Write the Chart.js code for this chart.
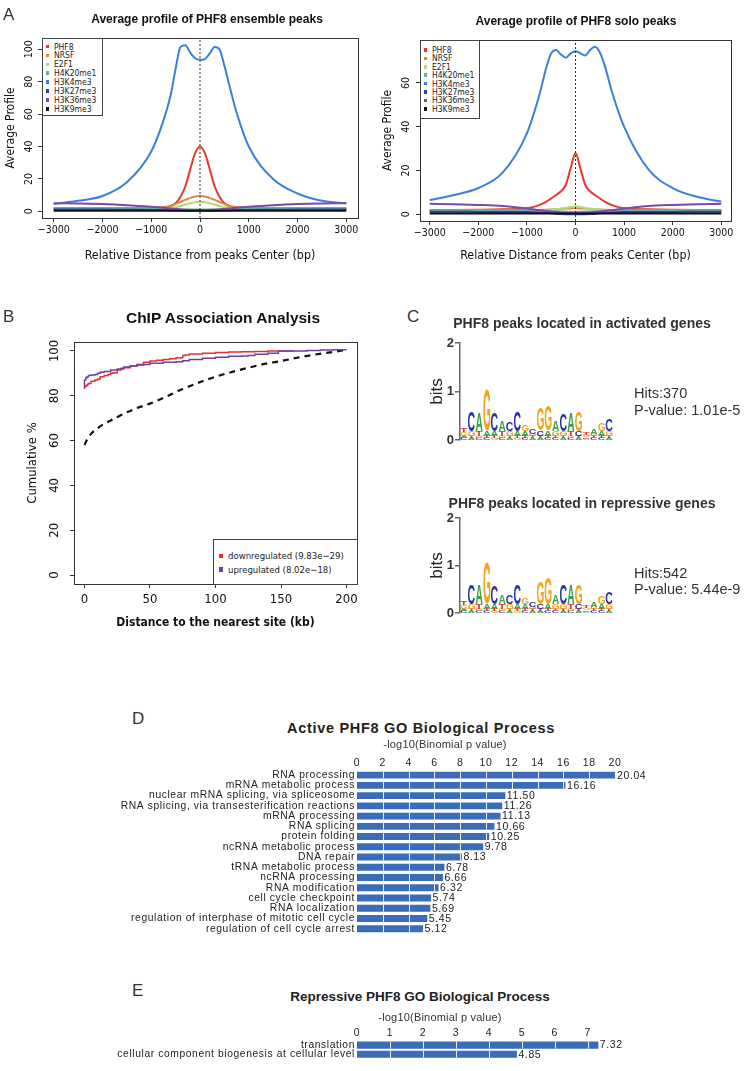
<!DOCTYPE html>
<html><head><meta charset="utf-8">
<script src="https://cdn.jsdelivr.net/npm/chart.js@4.4.1/dist/chart.umd.min.js"></script>
<style>
html,body{margin:0;padding:0;background:#fff;}
body{width:744px;height:1071px;position:relative;overflow:hidden;}
canvas{position:absolute;}
.t{position:absolute;white-space:nowrap;color:#222;line-height:1;}
.leg{position:absolute;border:1px solid #444;background:#fff;box-sizing:border-box;}
.leg div{position:absolute;white-space:nowrap;line-height:1;}
.leg span{position:absolute;display:block;}
</style></head><body>
<canvas id="a1" width="372" height="270" style="left:0;top:0"></canvas>
<canvas id="a2" width="372" height="270" style="left:372px;top:0"></canvas>
<canvas id="b" width="372" height="340" style="left:0;top:300px"></canvas>
<canvas id="c1" width="300" height="120" style="left:372px;top:330px"></canvas>
<canvas id="c2" width="300" height="120" style="left:372px;top:505px"></canvas>
<canvas id="d" width="744" height="202" style="left:0;top:740px"></canvas>
<canvas id="e" width="744" height="47" style="left:0;top:1020px"></canvas>
<script>
// ---------------- DATA ----------------
const profileX = [-3000,-2500,-2000,-1500,-1000,-750,-600,-500,-400,-300,-200,-100,0,100,200,300,400,500,600,750,1000,1500,2000,2500,3000];
const profileSeries = ['PHF8','NRSF','E2F1','H4K20me1','H3K4me3','H3K27me3','H3K36me3','H3K9me3'];
// ensemble peaks
const ensPHF8     = [1.5,1.5,1.6,1.8,2.2,2.6,3.4,5,9,15.5,26,36,40,36,26,15.5,9,5,3.4,2.6,2.2,1.8,1.6,1.5,1.5];
const ensNRSF     = [2,2,2,2,2.1,2.5,3.4,4.5,5.8,7.1,8.3,9.2,9.6,9.2,8.3,7.1,5.8,4.5,3.4,2.5,2.1,2,2,2,2];
const ensE2F1     = [1.5,1.5,1.5,1.5,1.5,1.6,1.9,2.5,3.3,4.2,5,5.7,6,5.7,5,4.2,3.3,2.5,1.9,1.6,1.5,1.5,1.5,1.5,1.5];
const ensH4K20me1 = [1.9,1.9,1.9,1.8,1.7,1.6,1.5,1.4,1.3,1.2,1.2,1.1,1.1,1.1,1.2,1.2,1.3,1.4,1.5,1.6,1.7,1.8,1.9,1.9,1.9];
const ensH3K4me3  = [4.5,6.5,9.5,18,37,56,72,88,101.5,102.5,98,94.5,93.5,94,97.5,101.5,100,90,78,61,40,20,11,6.5,5];
const ensH3K27me3 = [1.1,1.1,1.1,1,0.9,0.8,0.7,0.6,0.5,0.4,0.35,0.3,0.3,0.3,0.35,0.4,0.5,0.6,0.7,0.8,0.9,1,1.1,1.1,1.1];
const ensH3K36me3 = [5,4.9,4.5,3.8,2.8,2.2,1.8,1.5,1.2,1,0.9,0.8,0.8,0.8,0.9,1,1.2,1.5,1.8,2.2,2.8,3.8,4.5,4.9,5];
const ensH3K9me3  = [0.3,0.3,0.3,0.3,0.3,0.3,0.3,0.3,0.3,0.3,0.3,0.3,0.3,0.3,0.3,0.3,0.3,0.3,0.3,0.3,0.3,0.3,0.3,0.3,0.3];
// solo peaks
const soloPHF8     = [2,2,2.1,2.3,2.8,4.2,5.8,7.3,8.8,10.5,13.5,21,28,21,13.5,10.5,8.8,7.3,5.8,4.2,2.8,2.3,2.1,2,2];
const soloNRSF     = [1.8,1.8,1.8,1.8,1.9,2,2.1,2.2,2.3,2.5,2.6,2.7,2.8,2.7,2.6,2.5,2.3,2.2,2.1,2,1.9,1.8,1.8,1.8,1.8];
const soloE2F1     = [1.3,1.3,1.3,1.3,1.4,1.6,1.8,2,2.3,2.6,2.9,3.3,3.6,3.3,2.9,2.6,2.3,2,1.8,1.6,1.4,1.3,1.3,1.3,1.3];
const soloH4K20me1 = [1.9,1.9,1.9,1.9,1.8,1.7,1.6,1.5,1.4,1.3,1.2,1.2,1.2,1.2,1.2,1.3,1.4,1.5,1.6,1.7,1.8,1.9,1.9,1.9,1.9];
const soloH3K4me3  = [6.5,8.8,12,19,37,54,67,73.5,75,73,71.5,73.5,74.5,73.5,72.5,75,76.5,74,68,56,40,20.5,12,8,5.8];
const soloH3K27me3 = [1.2,1.2,1.1,1.1,1,0.8,0.6,0.5,0.3,0.15,0.05,0,0,0,0.05,0.15,0.3,0.5,0.6,0.8,1,1.1,1.1,1.2,1.2];
const soloH3K36me3 = [4.8,4.6,4.3,3.8,2.6,1.9,1.5,1.2,1,0.8,0.7,0.6,0.6,0.6,0.7,0.8,1,1.2,1.5,1.9,2.6,3.8,4.3,4.6,4.8];
const soloH3K9me3  = [0.4,0.4,0.4,0.4,0.4,0.4,0.4,0.4,0.4,0.4,0.4,0.4,0.4,0.4,0.4,0.4,0.4,0.4,0.4,0.4,0.4,0.4,0.4,0.4,0.4];
const profileXTicks = [-3000,-2000,-1000,0,1000,2000,3000];

// ChIP association
const downX = [0,1,2,3,5,8,10,12,15,18,20,22,25,28,30,35,40,45,50,55,60,65,70,75,77,80,90,100,110,120,130,140,150,160];
const downY = [83,84,84.5,85,85.5,86.5,87,87.5,88.5,89,89.5,90,90.3,91.5,92,92.5,93.3,94,95,95.5,95.8,96.2,96.5,97,98,98.2,98.6,99,99.3,99.5,99.6,99.8,100,100];
const upX = [0,1,2,3,5,8,10,12,15,20,25,28,30,35,40,45,50,60,70,75,80,90,100,110,120,125,130,140,148,150,160,170,180,190,200];
const upY = [84,87,88,88.5,89,89.3,89.5,90,90.5,90.8,91.5,92,92.3,92.8,93.3,93.7,94,94.5,95,95.2,95.6,96.2,96.7,97.2,97.6,97.8,98,98.5,99,100,100,100,100.2,100.4,100.5];
const bgX = [0,2,5,10,15,20,25,30,40,50,60,75,90,100,115,125,140,150,165,175,190,200];
const bgY = [58,60.5,63,65.5,67.5,69,70.5,72,74.5,76.5,79,83,86.5,88.5,91,92.5,94.5,95.5,97.3,98.3,99.6,100.5];

// sequence logos: per position heights in bits for [A, C, G, T]
const logoBases = ['A','C','G','T'];
const logoActivated = [
 [0.05,0.04,0.07,0.09],[0.04,0.40,0.10,0.05],[0.36,0.04,0.05,0.10],[0.10,0.04,0.83,0.05],
 [0.10,0.38,0.04,0.05],[0.22,0.04,0.05,0.10],[0.04,0.20,0.10,0.05],[0.10,0.40,0.04,0.05],
 [0.10,0.04,0.14,0.05],[0.04,0.10,0.05,0.04],[0.04,0.10,0.45,0.05],[0.10,0.04,0.50,0.05],
 [0.20,0.04,0.10,0.05],[0.04,0.35,0.10,0.05],[0.38,0.04,0.05,0.10],[0.04,0.10,0.40,0.05],
 [0.03,0.03,0.04,0.05],[0.10,0.04,0.05,0.04],[0.10,0.04,0.16,0.05],[0.04,0.25,0.10,0.05]];
const logoRepressive = [
 [0.05,0.04,0.07,0.09],[0.04,0.40,0.10,0.05],[0.42,0.04,0.05,0.10],[0.10,0.04,0.85,0.05],
 [0.10,0.38,0.04,0.05],[0.20,0.04,0.05,0.10],[0.04,0.20,0.10,0.05],[0.10,0.42,0.04,0.05],
 [0.10,0.04,0.14,0.05],[0.04,0.10,0.05,0.04],[0.04,0.10,0.48,0.05],[0.10,0.04,0.55,0.05],
 [0.20,0.04,0.10,0.05],[0.04,0.40,0.10,0.05],[0.40,0.04,0.05,0.10],[0.04,0.10,0.42,0.05],
 [0.03,0.03,0.04,0.05],[0.10,0.04,0.05,0.04],[0.10,0.04,0.16,0.05],[0.04,0.25,0.10,0.05]];

// GO
const goActiveTerms = ['RNA processing','mRNA metabolic process','nuclear mRNA splicing, via spliceosome','RNA splicing, via transesterification reactions','mRNA processing','RNA splicing','protein folding','ncRNA metabolic process','DNA repair','tRNA metabolic process','ncRNA processing','RNA modification','cell cycle checkpoint','RNA localization','regulation of interphase of mitotic cell cycle','regulation of cell cycle arrest'];
const goActiveValues = [20.04,16.16,11.50,11.26,11.13,10.66,10.25,9.78,8.13,6.78,6.66,6.32,5.74,5.69,5.45,5.12];
const goRepTerms = ['translation','cellular component biogenesis at cellular level'];
const goRepValues = [7.32,4.85];

// ---------------- STYLE ----------------
const FN = "'DejaVu Sans Condensed','Liberation Sans',Arial,sans-serif";
const FS = "'Liberation Sans',Arial,sans-serif";
const seriesColors = ['#e2392c','#d98a45','#b9d873','#62aea0','#3b7fd6','#2b3db0','#7b49ab','#111111'];
const logoColors = {A:'#35a646', C:'#2535a4', G:'#f5a31b', T:'#e2332a'};

Chart.defaults.font.family = FN;
Chart.defaults.animation = false;
Chart.defaults.responsive = false;
Chart.defaults.devicePixelRatio = 1;
Chart.defaults.plugins.legend.display = false;
Chart.defaults.plugins.tooltip.enabled = false;

const boxPlugin = {id:'box', afterDraw(chart){
  const {ctx, chartArea:a} = chart; ctx.save(); ctx.strokeStyle='#333'; ctx.lineWidth=1;
  ctx.strokeRect(Math.round(a.left)+0.5, Math.round(a.top)+0.5, Math.round(a.right-a.left), Math.round(a.bottom-a.top)); ctx.restore();
}};

const minus = v => String(v).replace('-', '\u2212');

function profileChart(id, arrays, yMin, yMax, xLim, L) {
  const ds = arrays.map((arr, i) => ({
    label: profileSeries[i],
    data: profileX.map((x, j) => ({x, y: arr[j]})),
    borderColor: seriesColors[i], borderWidth: 2, pointRadius: 0,
    cubicInterpolationMode: 'monotone', fill: false, order: 7 - i
  }));
  ds.push({label:'center', data:[{x:0,y:yMin},{x:0,y:yMax}], borderColor:'#333', borderWidth:1, borderDash:[2,2], pointRadius:0, order:-1});
  new Chart(document.getElementById(id), {
    type: 'line', data: {datasets: ds}, plugins: [boxPlugin],
    options: {
      layout: {padding: {top: L.top, right: L.right, left: 0, bottom: 0}},
      scales: {
        x: {type:'linear', min:-xLim, max:xLim, afterFit: s => { s.height = L.xh; },
            afterBuildTicks: s => { s.ticks = profileXTicks.map(v => ({value: v})); },
            ticks: {font:{size:10.5}, color:'#111', padding:2, maxRotation:0, autoSkip:false, callback: v => minus(v)},
            grid: {drawOnChartArea:false, tickLength:4, color:'#333'}, border:{display:false},
            title: {display:true, text:'Relative Distance from peaks Center (bp)', font:{size:12.4}, color:'#111', padding:{top:0,bottom:7}}},
        y: {min:yMin, max:yMax, afterFit: s => { s.width = L.yw; },
            ticks: {stepSize:20, includeBounds:false, minRotation:90, maxRotation:90, crossAlign:'center', padding:L.yp, font:{size:10.5}, color:'#111'},
            grid: {drawOnChartArea:false, tickLength:4, color:'#333'}, border:{display:false},
            title: {display:true, text:'Average Profile', font:{size:12}, color:'#111', padding:{top:L.ytp, bottom:0}}}
      }
    }
  });
}
profileChart('a1', [ensPHF8,ensNRSF,ensE2F1,ensH4K20me1,ensH3K4me3,ensH3K27me3,ensH3K36me3,ensH3K9me3], -4.1, 107, 3240, {top:38, right:14, xh:52, yw:42, yp:0, ytp:4});
profileChart('a2', [soloPHF8,soloNRSF,soloE2F1,soloH4K20me1,soloH3K4me3,soloH3K27me3,soloH3K36me3,soloH3K9me3], -3.06, 79.6, 3200, {top:40, right:13, xh:49, yw:48, yp:4, ytp:9});

// ---- B ----
new Chart(document.getElementById('b'), {
  type:'line', plugins:[boxPlugin],
  data:{datasets:[
    {label:'downregulated', data: downX.map((x,i)=>({x, y:downY[i]})), borderColor:'#e8302e', borderWidth:1.5, pointRadius:0, stepped:'after', order:1},
    {label:'upregulated', data: upX.map((x,i)=>({x, y:upY[i]})), borderColor:'#6d3fa8', borderWidth:1.5, pointRadius:0, stepped:'after', order:0},
    {label:'background', data: bgX.map((x,i)=>({x, y:bgY[i]})), borderColor:'#111', borderWidth:2.2, borderDash:[6,5], pointRadius:0, cubicInterpolationMode:'monotone', order:2}
  ]},
  options:{
    layout:{padding:{top:42, right:15, left:0, bottom:0}},
    scales:{
      x:{type:'linear', min:-8, max:208, afterFit: s => { s.height = 56; },
         ticks:{stepSize:50, includeBounds:false, font:{size:13}, color:'#111', padding:4, maxRotation:0},
         grid:{drawOnChartArea:false, tickLength:4, color:'#333'}, border:{display:false},
         title:{display:true, text:'Distance to the nearest site (kb)', font:{size:12, weight:'bold'}, color:'#111', padding:{top:0,bottom:10}}},
      y:{min:-4, max:104, afterFit: s => { s.width = 74; },
         ticks:{stepSize:20, includeBounds:false, minRotation:90, maxRotation:90, crossAlign:'center', padding:4, font:{size:13}, color:'#111'},
         grid:{drawOnChartArea:false, tickLength:4, color:'#333'}, border:{display:false},
         title:{display:true, text:'Cumulative %', font:{size:13}, color:'#111', padding:{top:25,bottom:0}}}
    }
  }
});

// ---- C logos ----
function drawLetter(ctx, ch, x0, x1, yBottom, yTop, color) {
  const h = yBottom - yTop; if (h < 0.4) return;
  ctx.save();
  ctx.font = 'bold 100px ' + FS;
  const m = ctx.measureText(ch);
  const gw = m.actualBoundingBoxLeft + m.actualBoundingBoxRight;
  const gh = m.actualBoundingBoxAscent + m.actualBoundingBoxDescent;
  ctx.translate(x0, yBottom);
  ctx.scale((x1 - x0) / gw, h / gh);
  ctx.fillStyle = color; ctx.textBaseline = 'alphabetic'; ctx.textAlign = 'left';
  ctx.fillText(ch, m.actualBoundingBoxLeft, -m.actualBoundingBoxDescent);
  ctx.restore();
}
const logoPlugin = {id:'logo', afterDatasetsDraw(chart){
  const ctx = chart.ctx, xs = chart.scales.x, ys = chart.scales.y;
  const cols = chart.data.datasets[0].logo;
  cols.forEach((col, i) => {
    const pos = i + 1;
    const x0 = xs.getPixelForValue(pos - 0.45), x1 = xs.getPixelForValue(pos + 0.45);
    const order = col.map((h, k) => ({h, b: logoBases[k]})).sort((a, b) => a.h - b.h);
    let acc = 0;
    order.forEach(o => {
      const yb = ys.getPixelForValue(acc), yt = ys.getPixelForValue(acc + o.h);
      drawLetter(ctx, o.b, x0, x1, yb, yt, logoColors[o.b]);
      acc += o.h;
    });
  });
}};
function logoChart(id, logo, padTop, padBottom) {
  new Chart(document.getElementById(id), {
    type:'scatter', plugins:[logoPlugin],
    data:{datasets:[{logo, data: logo.map((c,i)=>({x:i+1, y:c.reduce((a,b)=>a+b,0)})), pointRadius:0, showLine:false}]},
    options:{
      layout:{padding:{top:padTop, bottom:padBottom, left:0, right:59}},
      scales:{
        x:{type:'linear', min:0.5, max:20.5, display:false},
        y:{min:0, max:2, afterFit: s => { s.width = 88; },
           ticks:{stepSize:1, font:{family:FS, size:13, weight:'bold'}, color:'#333', padding:1},
           grid:{drawOnChartArea:false, tickLength:5, color:'#666', lineWidth:1.5},
           border:{display:true, color:'#666', width:1.5},
           title:{display:true, text:'bits', font:{family:FS, size:17}, color:'#222', padding:{top:55, bottom:0}}}
      }
    }
  });
}
logoChart('c1', logoActivated, 13, 10);
logoChart('c2', logoRepressive, 13, 12);

// ---- D / E bars ----
const spacingPlugin = {id:'spacing', beforeDraw(chart){ chart.ctx.letterSpacing = '0.6px'; }};
const barDeco = {id:'barDeco', afterDatasetsDraw(chart){
  const ctx = chart.ctx, xs = chart.scales.x, meta = chart.getDatasetMeta(0);
  const vals = chart.data.datasets[0].data;
  ctx.save();
  meta.data.forEach((bar, i) => {
    const {x, y, height} = bar.getProps(['x','y','height'], true);
    const top = y - height/2, bot = y + height/2;
    ctx.strokeStyle = 'rgba(255,255,255,0.9)'; ctx.lineWidth = 1;
    xs.ticks.forEach(t => {
      if (t.value > 0 && t.value < vals[i]) {
        const px = Math.round(xs.getPixelForValue(t.value)) + 0.5;
        ctx.beginPath(); ctx.moveTo(px, top); ctx.lineTo(px, bot); ctx.stroke();
      }
    });
    ctx.letterSpacing = '0.6px';
    ctx.fillStyle = '#222'; ctx.font = '10.5px ' + FS; ctx.textBaseline = 'middle'; ctx.textAlign = 'left';
    ctx.fillText(vals[i].toFixed(2), x + 1.5, y + 0.5);
  });
  ctx.restore();
}};
function goChart(id, terms, vals, maxV, step, xh, padRight, barPct) {
  new Chart(document.getElementById(id), {
    type:'bar', plugins:[spacingPlugin, barDeco],
    data:{labels: terms, datasets:[{data: vals, backgroundColor:'#3b6cb7', barPercentage:barPct, categoryPercentage:1, clip:false}]},
    options:{
      indexAxis:'y',
      layout:{padding:{top:0, right:padRight, bottom:0, left:0}},
      scales:{
        x:{position:'top', min:0, max:maxV, afterFit: s => { s.height = xh; },
           ticks:{stepSize:step, includeBounds:false, padding:1, font:{family:FS, size:10.5}, color:'#222', maxRotation:0},
           grid:{display:false, drawTicks:false}, border:{display:false}},
        y:{afterFit: s => { s.width = 357; },
           ticks:{font:{family:FS, size:10.3}, color:'#222', padding:2, autoSkip:false},
           grid:{display:false, drawTicks:false}, border:{display:false}}
      }
    }
  });
}
goChart('d', goActiveTerms, goActiveValues, 20, 2, 30, 129, 0.67);
goChart('e', goRepTerms, goRepValues, 7.4, 1, 20.5, 143, 0.78);

// ---------------- TEXT ----------------
function txt(s, x, y, style, anchor) {
  const el = document.createElement('div'); el.className = 't'; el.textContent = s;
  el.style.cssText += style; el.style.left = x + 'px'; el.style.top = y + 'px';
  el.style.transform = anchor === 'l' ? 'translate(0,-50%)' : 'translate(-50%,-50%)';
  document.body.appendChild(el); return el;
}
const panelFont = `font-family:${FS};font-size:17px;color:#333;`;
txt('A', 3, 14, panelFont, 'l');
txt('B', 3, 316, panelFont, 'l');
txt('C', 407, 316, panelFont, 'l');
txt('D', 132, 718, panelFont, 'l');
txt('E', 132, 990, panelFont, 'l');
txt('Average profile of PHF8 ensemble peaks', 207, 19, `font-family:${FS};font-weight:bold;font-size:12px;color:#111;`);
txt('Average profile of PHF8 solo peaks', 576, 21, `font-family:${FS};font-weight:bold;font-size:12px;color:#111;`);
txt('ChIP Association Analysis', 223, 318, `font-family:${FS};font-weight:bold;font-size:15.5px;color:#111;`);
txt('PHF8 peaks located in activated genes', 582, 323, `font-family:${FS};font-weight:bold;font-size:14px;color:#333;`);
txt('PHF8 peaks located in repressive genes', 582, 503, `font-family:${FS};font-weight:bold;font-size:14px;color:#333;`);
txt('Hits:370', 634, 393, `font-family:${FS};font-size:14.5px;color:#333;`, 'l');
txt('P-value: 1.01e-5', 634, 410, `font-family:${FS};font-size:14.5px;color:#333;`, 'l');
txt('Hits:542', 634, 573, `font-family:${FS};font-size:14.5px;color:#333;`, 'l');
txt('P-value: 5.44e-9', 634, 589, `font-family:${FS};font-size:14.5px;color:#333;`, 'l');
txt('Active PHF8 GO Biological Process', 421, 728, `font-family:${FS};font-weight:bold;font-size:14.5px;letter-spacing:0.7px;color:#222;`);
txt('-log10(Binomial p value)', 445, 744, `font-family:${FS};font-size:11px;letter-spacing:0.2px;color:#333;`);
txt('Repressive PHF8 GO Biological Process', 420, 997, `font-family:${FS};font-weight:bold;font-size:13.5px;color:#222;`);
txt('-log10(Binomial p value)', 440, 1017, `font-family:${FS};font-size:11px;letter-spacing:0.2px;color:#333;`);

// legends
function legend(x, y, w, h, items, colors, first, step, txtX, font, sq) {
  const box = document.createElement('div'); box.className = 'leg';
  box.style.cssText = `left:${x}px;top:${y}px;width:${w}px;height:${h}px;`;
  items.forEach((s, i) => {
    const cy = first + i * step;
    const m = document.createElement('span');
    m.style.cssText = `left:${txtX - sq - 5}px;top:${cy - sq/2}px;width:${sq}px;height:${sq}px;background:${colors[i]};`;
    box.appendChild(m);
    const t = document.createElement('div'); t.textContent = s;
    t.style.cssText = `left:${txtX}px;top:${cy}px;transform:translate(0,-50%);font-family:${FN};font-size:${font}px;color:#222;`;
    box.appendChild(t);
  });
  document.body.appendChild(box);
}
legend(42, 38, 61, 78, profileSeries, seriesColors, 7.5, 8.9, 11, 8.5, 3.5);
legend(420, 40, 60, 79, profileSeries, seriesColors, 9, 8.4, 11, 8.5, 3.5);
legend(213, 539, 145, 46, ['downregulated (9.83e\u221229)','upregulated (8.02e\u221218)'], ['#e8302e','#6d3fa8'], 16, 13.5, 14, 9.5, 4.5);
</script>
</body></html>
